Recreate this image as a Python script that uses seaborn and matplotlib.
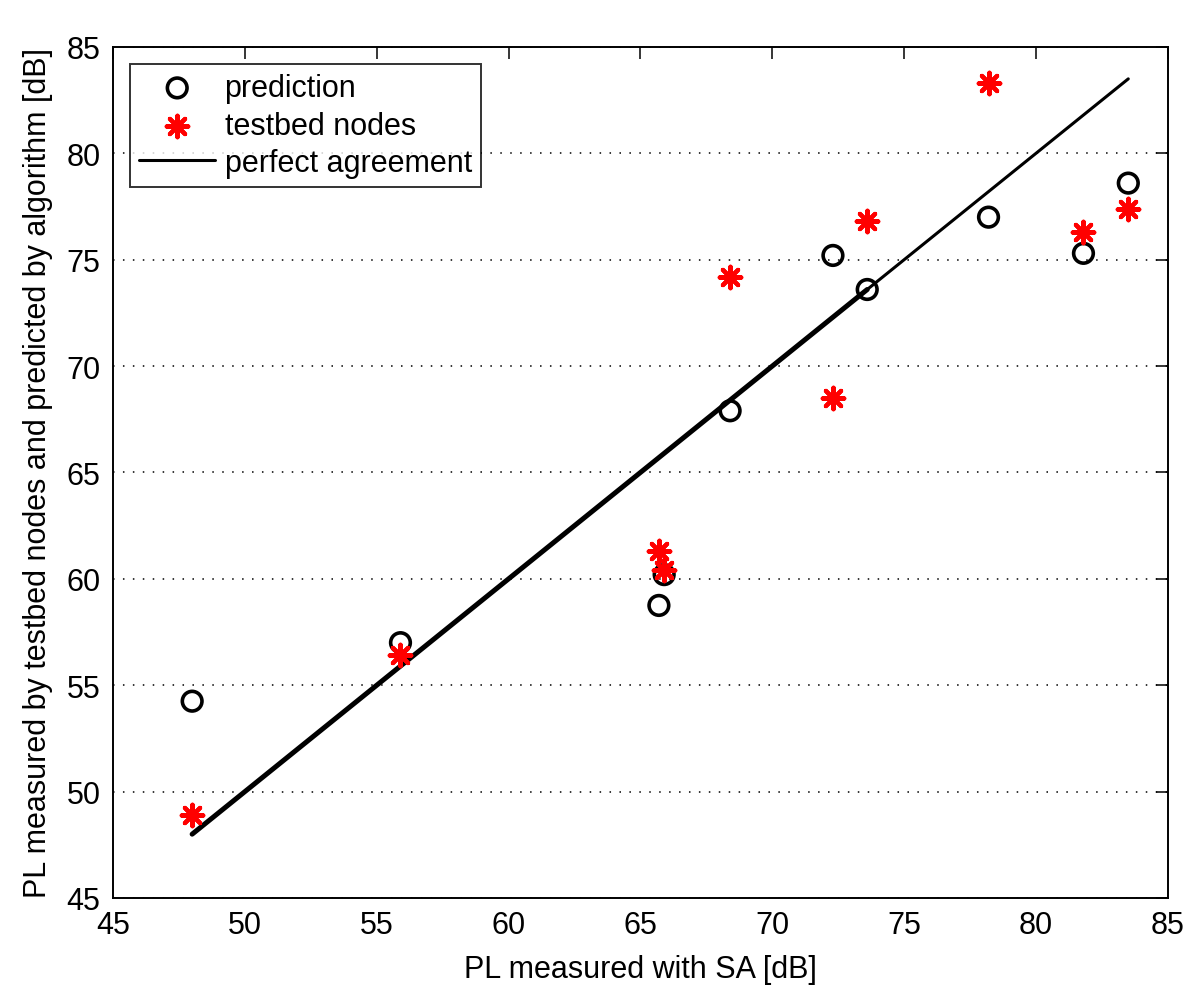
import matplotlib
matplotlib.use('Agg')
import numpy as np
import seaborn as sns
import matplotlib.pyplot as plt

# PL values [dB]
sa = [48.0, 55.9, 65.7, 65.9, 68.4, 72.3, 73.6, 78.2, 81.8, 83.5]
prediction = [54.25, 57.0, 58.75, 60.2, 67.9, 75.2, 73.6, 77.0, 75.3, 78.6]
testbed = [48.9, 56.4, 61.3, 60.4, 74.2, 68.5, 76.8, 83.3, 76.3, 77.4]
ticks = [45, 50, 55, 60, 65, 70, 75, 80, 85]

sns.set_theme(style='white')
plt.rcParams['font.family'] = ['Liberation Sans', 'DejaVu Sans']
plt.rcParams['text.color'] = 'black'
plt.rcParams['axes.labelcolor'] = 'black'

fig = plt.figure(figsize=(12, 10.03), dpi=100)
ax = fig.add_axes([0.0942, 0.1037, 0.879, 0.8485])

sns.scatterplot(x=sa, y=prediction, marker='o', s=200, color='black',
                facecolor='none', edgecolor='black', linewidth=2.6,
                label='prediction', ax=ax, zorder=3)
sns.scatterplot(x=sa, y=testbed, marker=(8, 2, 0), s=240, color='red',
                linewidth=3.0, label='testbed nodes', ax=ax, zorder=3)
sns.lineplot(x=sa, y=sa, color='black', lw=2.2, label='perfect agreement',
             ax=ax, zorder=2)
# lower part of the line looks heavier in the original
sns.lineplot(x=sa[:7], y=sa[:7], color='black', lw=3.6, ax=ax, zorder=2,
             legend=False)

ax.set_xlim(45, 85)
ax.set_ylim(45, 85)
ax.set_xticks(ticks)
ax.set_yticks(ticks)
ax.yaxis.grid(True, color='black', ls=(0, (1, 5.5)), lw=1.1)
ax.xaxis.grid(False)
ax.set_axisbelow(True)

ax.tick_params(direction='in', top=True, right=True, length=8.5, width=1.1,
               labelsize=22, colors='black', pad=9)
for s in ax.spines.values():
    s.set_color('black')
    s.set_linewidth(1.4)

ax.set_xlabel('PL measured with SA [dB]', fontsize=22, labelpad=10)
ax.set_ylabel('PL measured by testbed nodes and predicted by algorithm [dB]',
              fontsize=22, labelpad=10)

h, l = ax.get_legend_handles_labels()
leg = ax.legend(h[:3], l[:3], loc='upper left', fontsize=22, frameon=True,
                fancybox=False, edgecolor='black', borderaxespad=0.55,
                handlelength=2.5, handletextpad=0.3, labelspacing=0.25,
                borderpad=0.3)
leg.get_frame().set_linewidth(1.4)

fig.savefig('out.png', dpi=100, facecolor='white')
